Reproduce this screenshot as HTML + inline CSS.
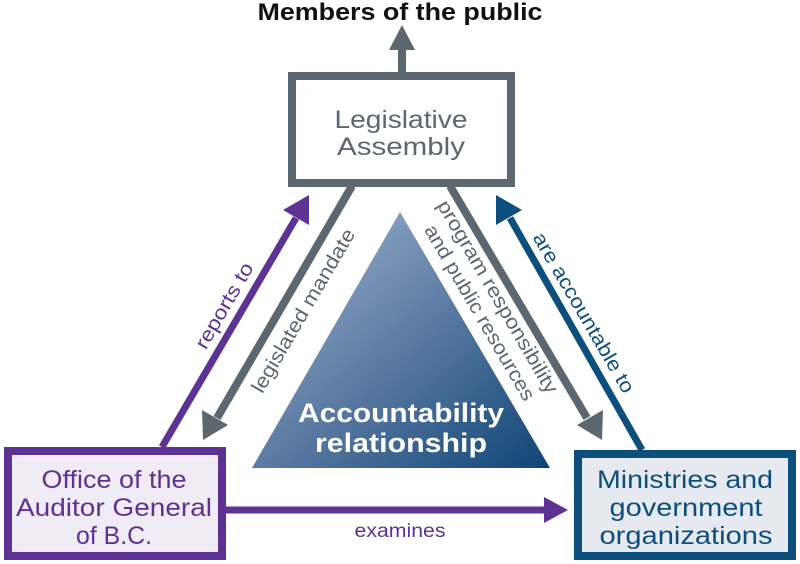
<!DOCTYPE html>
<html><head><meta charset="utf-8"><style>
html,body{margin:0;padding:0;background:#fff;}
svg{display:block;font-family:"Liberation Sans",sans-serif;}
</style></head><body>
<svg width="800" height="564" viewBox="0 0 800 564" xmlns="http://www.w3.org/2000/svg">
<defs>
<linearGradient id="g" x1="0" y1="0" x2="1" y2="1" gradientUnits="objectBoundingBox">
<stop offset="0" stop-color="#a3b8d2"/>
<stop offset="0.45" stop-color="#6582a8"/>
<stop offset="1" stop-color="#0f4575"/>
</linearGradient>
</defs>
<text x="400" y="20" text-anchor="middle" font-size="24" font-weight="bold" fill="#111" textLength="285" lengthAdjust="spacingAndGlyphs">Members of the public</text>
<rect x="398" y="48" width="8" height="26" fill="#5d6770"/>
<polygon points="402,25 389,50 415,50" fill="#5d6770"/>
<rect x="292" y="76" width="219" height="107" fill="#fff" stroke="#5d6770" stroke-width="8"/>
<text x="401" y="128" text-anchor="middle" font-size="25" fill="#5d6770" textLength="133" lengthAdjust="spacingAndGlyphs">Legislative</text>
<text x="401" y="155" text-anchor="middle" font-size="25" fill="#5d6770" textLength="128" lengthAdjust="spacingAndGlyphs">Assembly</text>
<polygon points="400,212 252,468 550,468" fill="url(#g)"/>
<text x="401" y="422" text-anchor="middle" font-size="27" font-weight="bold" fill="#fff" textLength="206" lengthAdjust="spacingAndGlyphs">Accountability</text>
<text x="401" y="452" text-anchor="middle" font-size="27" font-weight="bold" fill="#fff" textLength="172" lengthAdjust="spacingAndGlyphs">relationship</text>
<line x1="352" y1="186" x2="217" y2="418" stroke="#5d6770" stroke-width="8"/>
<polygon points="203,440 202,410 228,425" fill="#5d6770"/>
<line x1="450" y1="186" x2="587" y2="418" stroke="#5d6770" stroke-width="8"/>
<polygon points="602,440 603,410 577,425" fill="#5d6770"/>
<line x1="162" y1="447" x2="296" y2="218" stroke="#5e3292" stroke-width="7"/>
<polygon points="309,195 309,225 283,210" fill="#5e3292"/>
<line x1="642" y1="450" x2="510" y2="218" stroke="#0d4f7c" stroke-width="7"/>
<polygon points="496,195 496,225 522,210" fill="#0d4f7c"/>
<line x1="226" y1="510" x2="550" y2="510" stroke="#5e3292" stroke-width="7"/>
<polygon points="568,510 544,497 544,523" fill="#5e3292"/>
<text x="400" y="537" text-anchor="middle" font-size="19" fill="#5e3292" textLength="91" lengthAdjust="spacingAndGlyphs">examines</text>
<text transform="translate(230,309) rotate(-59.8)" text-anchor="middle" font-size="20" fill="#5e3292" textLength="96" lengthAdjust="spacingAndGlyphs">reports to</text>
<text transform="translate(309,314) rotate(-59.8)" text-anchor="middle" font-size="20" fill="#5d6770" textLength="186" lengthAdjust="spacingAndGlyphs">legislated mandate</text>
<text transform="translate(492,300) rotate(59.8)" text-anchor="middle" font-size="20" fill="#5d6770" textLength="220" lengthAdjust="spacingAndGlyphs">program responsibility</text>
<text transform="translate(474,316) rotate(59.8)" text-anchor="middle" font-size="20" fill="#5d6770" textLength="200" lengthAdjust="spacingAndGlyphs">and public resources</text>
<text transform="translate(578,316) rotate(59.8)" text-anchor="middle" font-size="20" fill="#0d4f7c" textLength="182" lengthAdjust="spacingAndGlyphs">are accountable to</text>
<rect x="8" y="451" width="214" height="105" fill="#efecf6" stroke="#5e3292" stroke-width="8"/>
<text x="114" y="488" text-anchor="middle" font-size="25" fill="#5e3292" textLength="145" lengthAdjust="spacingAndGlyphs">Office of the</text>
<text x="114" y="516" text-anchor="middle" font-size="25" fill="#5e3292" textLength="196" lengthAdjust="spacingAndGlyphs">Auditor General</text>
<text x="114" y="544" text-anchor="middle" font-size="25" fill="#5e3292" textLength="76" lengthAdjust="spacingAndGlyphs">of B.C.</text>
<rect x="578" y="454" width="214" height="102" fill="#e6eaf0" stroke="#0d4f7c" stroke-width="8"/>
<text x="685" y="488" text-anchor="middle" font-size="25" fill="#0d4f7c" textLength="176" lengthAdjust="spacingAndGlyphs">Ministries and</text>
<text x="686" y="516" text-anchor="middle" font-size="25" fill="#0d4f7c" textLength="153" lengthAdjust="spacingAndGlyphs">government</text>
<text x="686" y="544" text-anchor="middle" font-size="25" fill="#0d4f7c" textLength="173" lengthAdjust="spacingAndGlyphs">organizations</text>
</svg>
</body></html>
